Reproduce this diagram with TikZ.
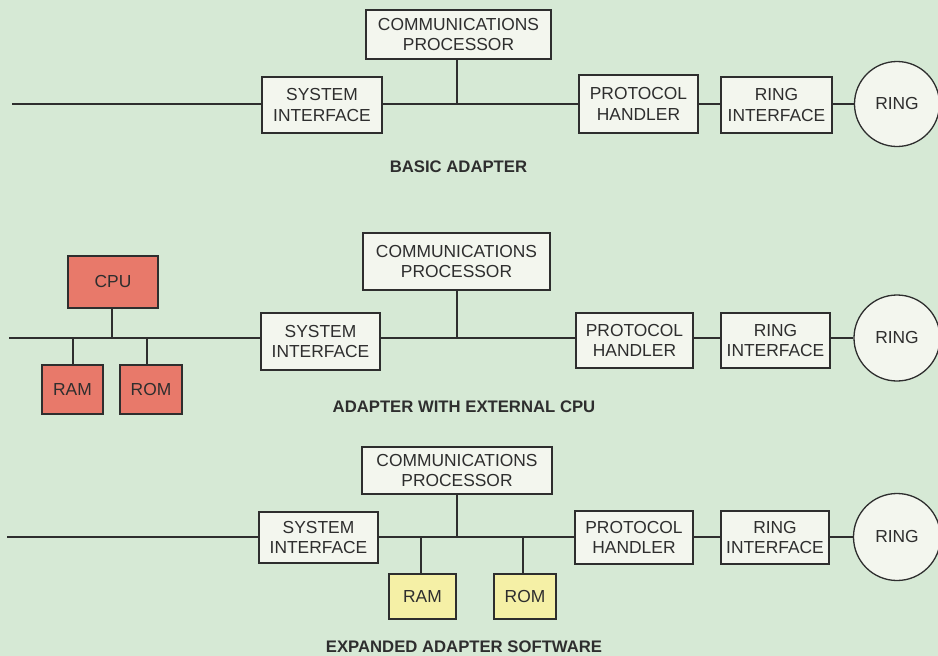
\documentclass[tikz,border=0pt]{standalone}
\usepackage{fontspec}
\setmainfont{Liberation Sans}
\definecolor{bg}{HTML}{D6E9D5}
\definecolor{boxfill}{HTML}{F3F6EE}
\definecolor{redfill}{HTML}{E8796A}
\definecolor{yelfill}{HTML}{F5F0A6}
\definecolor{ink}{HTML}{2E2E2E}
\tikzset{
  blk/.style={draw=ink, line width=1.3pt, fill=boxfill, align=center, inner sep=0pt,
    font=\fontsize{17.4}{20.5}\selectfont, text=ink},
  redblk/.style={blk, fill=redfill},
  yelblk/.style={blk, fill=yelfill},
  ringc/.style={draw=ink, line width=1.3pt, fill=boxfill, circle, minimum size=85pt, inner sep=0pt,
    font=\fontsize{17.4}{20.5}\selectfont, text=ink},
  wire/.style={draw=ink, line width=1.3pt},
  caption/.style={font=\fontsize{16.7}{19}\selectfont\bfseries, text=ink}
}
\begin{document}
\begin{tikzpicture}[x=1pt,y=-1pt]
\fill[bg] (0,0) rectangle (938,656);
\useasboundingbox (0,0) rectangle (938,656);

% ---------- Diagram 1 ----------
\node[blk, minimum width=185pt, minimum height=49pt] (cp1) at (458.5,34.5) {COMMUNICATIONS\\PROCESSOR};
\node[blk, minimum width=120pt, minimum height=56pt] (si1) at (322,105) {SYSTEM\\INTERFACE};
\node[blk, minimum width=119pt, minimum height=58pt] (ph1) at (638.5,104) {PROTOCOL\\HANDLER};
\node[blk, minimum width=111pt, minimum height=56pt] (ri1) at (776.5,105) {RING\\INTERFACE};
\node[ringc] (ring1) at (897,104) {RING};
\coordinate (l1) at (12,104);
\coordinate (j1) at (457,104);
\draw[wire] (l1) -- (si1.west |- l1);
\draw[wire] (si1.east |- l1) -- (ph1.west |- l1);
\draw[wire] (ph1.east |- l1) -- (ri1.west |- l1);
\draw[wire] (ri1.east |- l1) -- (ring1.west);
\draw[wire] (cp1.south -| j1) -- (j1);
\node[caption] (cap1) at (458.5,167) {BASIC ADAPTER};

% ---------- Diagram 2 ----------
\node[blk, minimum width=187pt, minimum height=57pt] (cp2) at (456.5,261.5) {COMMUNICATIONS\\PROCESSOR};
\node[blk, minimum width=119pt, minimum height=57pt] (si2) at (320.5,341.5) {SYSTEM\\INTERFACE};
\node[blk, minimum width=117pt, minimum height=55pt] (ph2) at (634.5,340.5) {PROTOCOL\\HANDLER};
\node[blk, minimum width=109pt, minimum height=55pt] (ri2) at (775.5,340.5) {RING\\INTERFACE};
\node[ringc, minimum size=86pt] (ring2) at (897,338) {RING};
\node[redblk, minimum width=90pt, minimum height=52pt] (cpu) at (113,282) {CPU};
\node[redblk, minimum width=61pt, minimum height=49pt] (ram2) at (72.5,389.5) {RAM};
\node[redblk, minimum width=62pt, minimum height=49pt] (rom2) at (151,389.5) {ROM};
\coordinate (l2) at (9,338);
\coordinate (j2) at (457,338);
\coordinate (jc) at (112,338);
\coordinate (jr) at (73,338);
\coordinate (jo) at (147,338);
\draw[wire] (l2) -- (si2.west |- l2);
\draw[wire] (si2.east |- l2) -- (ph2.west |- l2);
\draw[wire] (ph2.east |- l2) -- (ri2.west |- l2);
\draw[wire] (ri2.east |- l2) -- (ring2.west);
\draw[wire] (cp2.south -| j2) -- (j2);
\draw[wire] (cpu.south -| jc) -- (jc);
\draw[wire] (jr) -- (ram2.north -| jr);
\draw[wire] (jo) -- (rom2.north -| jo);
\node[caption] (cap2) at (464,407) {ADAPTER WITH EXTERNAL CPU};

% ---------- Diagram 3 ----------
\node[blk, minimum width=190pt, minimum height=47pt] (cp3) at (457,470.4) {COMMUNICATIONS\\PROCESSOR};
\node[blk, minimum width=119pt, minimum height=51pt] (si3) at (318.5,537.5) {SYSTEM\\INTERFACE};
\node[blk, minimum width=118pt, minimum height=53pt] (ph3) at (634,537.5) {PROTOCOL\\HANDLER};
\node[blk, minimum width=108pt, minimum height=53pt] (ri3) at (775,537.5) {RING\\INTERFACE};
\node[ringc, minimum size=87pt] (ring3) at (897,537) {RING};
\node[yelblk, minimum width=67pt, minimum height=45pt] (ram3) at (422.5,596.5) {RAM};
\node[yelblk, minimum width=62pt, minimum height=45pt] (rom3) at (525,596.5) {ROM};
\coordinate (l3) at (7,537);
\coordinate (j3) at (457,537);
\coordinate (jr3) at (421,537);
\coordinate (jo3) at (523,537);
\draw[wire] (l3) -- (si3.west |- l3);
\draw[wire] (si3.east |- l3) -- (ph3.west |- l3);
\draw[wire] (ph3.east |- l3) -- (ri3.west |- l3);
\draw[wire] (ri3.east |- l3) -- (ring3.west);
\draw[wire] (cp3.south -| j3) -- (j3);
\draw[wire] (jr3) -- (ram3.north -| jr3);
\draw[wire] (jo3) -- (rom3.north -| jo3);
\node[caption] (cap3) at (464,647) {EXPANDED ADAPTER SOFTWARE};
\end{tikzpicture}
\end{document}
